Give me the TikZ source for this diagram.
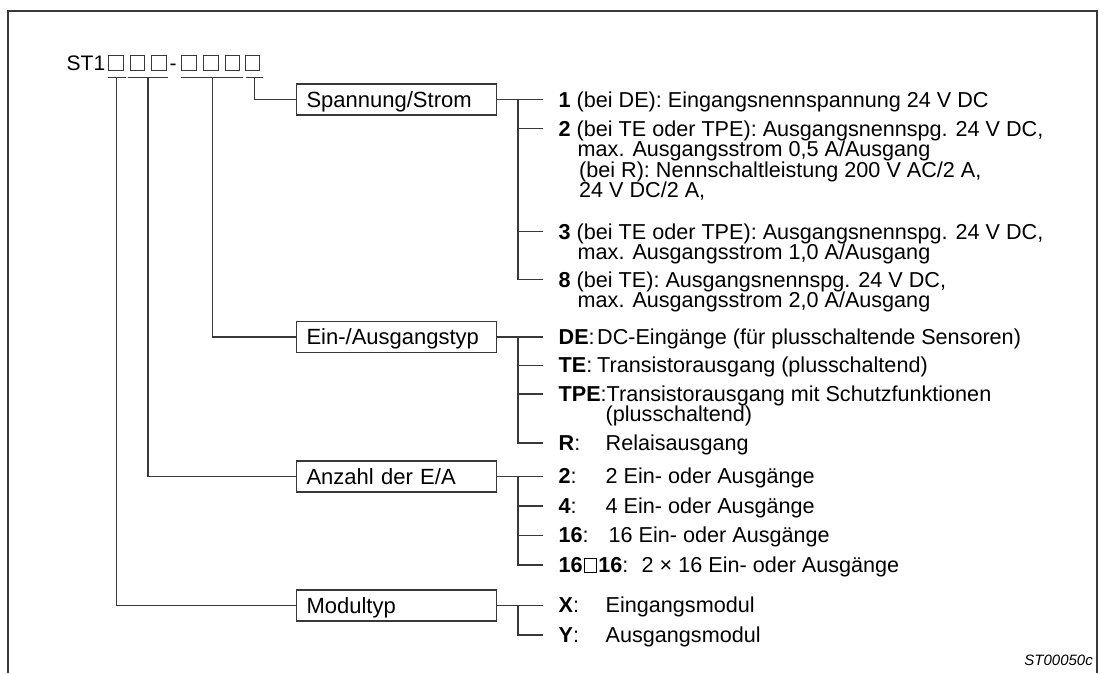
\documentclass[tikz,border=0pt]{standalone}
\usepackage{fontspec}
\setmainfont{Liberation Sans}
\usetikzlibrary{calc}

% small open square used inside the bold "16□16" label
\newcommand\opensq{\hbox{\kern1.2pt\vbox{\hrule height .8pt\hbox{\vrule width .8pt height 12.6pt depth 0pt\kern 11.6pt\vrule width .8pt}\hrule height .8pt}\kern1.2pt}}

\tikzset{
  ln/.style={line width=1.1pt, draw=black!78},
  catbox/.style={draw=black!78, line width=1.1pt, minimum width=200pt, minimum height=31pt,
    text width=179pt, inner xsep=10.5pt, inner ysep=0pt, align=left,
    text height=15pt, text depth=0pt, anchor=west, font=\fontsize{22pt}{22pt}\selectfont},
  txt/.style={anchor=base west, inner sep=0pt},
  sq/.style={draw=black!78, line width=1pt, minimum size=14.5pt, inner sep=0pt},
}

\begin{document}
\begin{tikzpicture}[x=1pt, y=-1pt, font=\fontsize{21.6pt}{21.6pt}\selectfont]
\useasboundingbox (0,0) rectangle (1103,673);

% outer frame, open at the bottom
\draw[ln] (8,673) -- (8,11) -- (1097,11) -- (1097,673);

% type designation with placeholders
\node[txt, font=\fontsize{21pt}{21pt}\selectfont] (st) at (66.5,70) {ST1};
\node[sq] (q1) at (115.8,62.9) {};
\node[sq] (q2) at (137.5,62.9) {};
\node[sq] (q3) at (159.2,62.9) {};
\node[txt, font=\fontsize{21pt}{21pt}\selectfont] (hy) at (169.3,70) {-};
\node[sq] (q4) at (189.2,62.9) {};
\node[sq] (q5) at (210.8,62.9) {};
\node[sq] (q6) at (232.5,62.9) {};
\node[sq] (q7) at (252.5,62.9) {};

% underlines beneath the placeholder groups
\coordinate (u1a) at ($(q1.south west)+(-0.5,7.2)$);
\coordinate (u1b) at ($(q1.south east)+(2,7.2)$);
\coordinate (u2a) at ($(q2.south west)+(-2.2,7.2)$);
\coordinate (u2b) at ($(q3.south east)+(1.5,7.2)$);
\coordinate (u3a) at ($(q4.south west)+(0,7.2)$);
\coordinate (u3b) at ($(q6.south east)+(3,7.2)$);
\coordinate (u4a) at ($(q7.south west)+(1.5,7.2)$);
\coordinate (u4b) at ($(q7.south east)+(2.7,7.2)$);
\foreach \u in {1,2,3,4} \draw[ln] (u\u a) -- (u\u b);

% category boxes
\node[catbox] (bS) at (295.5,99.5) {Spannung/Strom};
\node[catbox] (bE) at (295.5,337) {Ein-/Ausgangstyp};
\node[catbox] (bA) at (295.5,476.5) {Anzahl der E/A};
\node[catbox] (bM) at (295.5,605.5) {Modultyp};

% drops from the designation to the boxes
\draw[ln] ($(u4a)!0.5!(u4b)$) |- (bS.west);
\draw[ln] ($(u3a)!0.5!(u3b)$) |- (bE.west);
\draw[ln] ($(u2a)!0.5!(u2b)$) |- (bA.west);
\draw[ln] ($(u1a)!0.5!(u1b)$) |- (bM.west);

% ---- Spannung/Strom ----
\coordinate (jS) at (518,99.5);
\coordinate (s1) at (543,99.5);
\coordinate (s2) at (543,128.5);
\coordinate (s3) at (543,231.5);
\coordinate (s8) at (543,279.5);
\draw[ln] (bS.east) -- (s1);
\foreach \k in {2,3,8} \draw[ln] (jS) |- (s\k);
\node[txt] (t1) at (558.5,107.3) {\textbf{1} (bei DE): Eingangsnennspannung 24 V DC};
\node[txt] (t2) at (558.5,136.3) {\textbf{2} (bei TE oder TPE): Ausgangsnennspg. 24 V DC,};
\node[txt] (t2b) at (577.5,156.8) {max. Ausgangsstrom 0,5 A/Ausgang};
\node[txt] (t2c) at (579,177.3) {(bei R): Nennschaltleistung 200 V AC/2 A,};
\node[txt] (t2d) at (579,197.8) {24 V DC/2 A,};
\node[txt] (t3) at (558.5,239.3) {\textbf{3} (bei TE oder TPE): Ausgangsnennspg. 24 V DC,};
\node[txt] (t3b) at (577.5,259.8) {max. Ausgangsstrom 1,0 A/Ausgang};
\node[txt] (t8) at (558.5,287.3) {\textbf{8} (bei TE): Ausgangsnennspg. 24 V DC,};
\node[txt] (t8b) at (577.5,307.8) {max. Ausgangsstrom 2,0 A/Ausgang};

% ---- Ein-/Ausgangstyp ----
\coordinate (jE) at (518,337);
\coordinate (e1) at (543,337);
\coordinate (e2) at (543,365.5);
\coordinate (e3) at (543,394);
\coordinate (e4) at (543,443);
\draw[ln] (bE.east) -- (e1);
\foreach \k in {2,3,4} \draw[ln] (jE) |- (e\k);
\node[txt] (tDE) at (558.5,344.3) {\makebox[38.5pt][l]{\textbf{DE}:}DC-Eingänge (für plusschaltende Sensoren)};
\node[txt] (tTE) at (558.5,372.8) {\makebox[38.5pt][l]{\textbf{TE}:}Transistorausgang (plusschaltend)};
\node[txt] (tTPE) at (558.5,401.3) {\textbf{TPE}:Transistorausgang mit Schutzfunktionen};
\node[txt] (tTPEb) at (605.5,421.8) {(plusschaltend)};
\node[txt] (tR) at (558.5,450.3) {\makebox[47pt][l]{\textbf{R}:}Relaisausgang};

% ---- Anzahl der E/A ----
\coordinate (jA) at (518,476.5);
\coordinate (a1) at (543,476.5);
\coordinate (a2) at (543,506);
\coordinate (a3) at (543,535.5);
\coordinate (a4) at (543,565);
\draw[ln] (bA.east) -- (a1);
\foreach \k in {2,3,4} \draw[ln] (jA) |- (a\k);
\node[txt] (tA2) at (558.5,483.8) {\makebox[47pt][l]{\textbf{2}:}2 Ein- oder Ausgänge};
\node[txt] (tA4) at (558.5,513.3) {\makebox[47pt][l]{\textbf{4}:}4 Ein- oder Ausgänge};
\node[txt] (tA16) at (558.5,542.8) {\makebox[50pt][l]{\textbf{16}:}16 Ein- oder Ausgänge};
\node[txt] (tA32) at (558.5,572.3) {\makebox[83pt][l]{\textbf{16\opensq16}:}2 × 16 Ein- oder Ausgänge};

% ---- Modultyp ----
\coordinate (jM) at (518,605.5);
\coordinate (m1) at (543,605.5);
\coordinate (m2) at (543,635);
\draw[ln] (bM.east) -- (m1);
\draw[ln] (jM) |- (m2);
\node[txt] (tX) at (558.5,612.8) {\makebox[47pt][l]{\textbf{X}:}Eingangsmodul};
\node[txt] (tY) at (558.5,642.3) {\makebox[47pt][l]{\textbf{Y}:}Ausgangsmodul};

% drawing number
\node[anchor=base east, inner sep=0pt, font=\fontsize{15pt}{15pt}\selectfont\itshape] (id) at (1093,665) {ST00050c};
\end{tikzpicture}
\end{document}
